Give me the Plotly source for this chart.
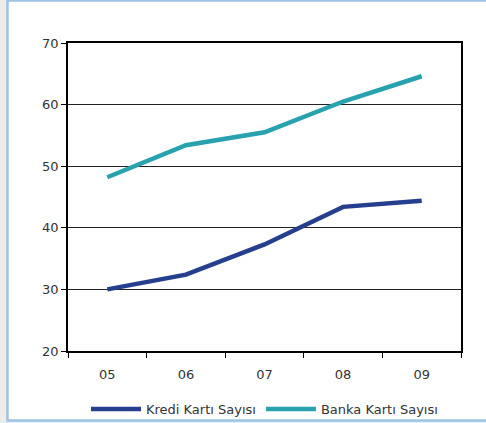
import plotly.graph_objects as go

years = ["05", "06", "07", "08", "09"]
kredi = [30.0, 32.4, 37.3, 43.4, 44.4]
banka = [48.2, 53.4, 55.5, 60.5, 64.6]
y_ticks = [20, 30, 40, 50, 60, 70]

FONT = "DejaVu Sans"

fig = go.Figure()
fig.add_trace(go.Scatter(
    x=years, y=kredi, name="Kredi Kartı Sayısı", mode="lines",
    line=dict(color="#253f8e", width=4.5),
))
fig.add_trace(go.Scatter(
    x=years, y=banka, name="Banka Kartı Sayısı", mode="lines",
    line=dict(color="#27a2ae", width=4.5),
))

# outer frame: white panel with light-blue border
fig.add_shape(
    type="rect", xref="paper", yref="paper", layer="below",
    x0=-0.154, x1=1.08, y0=-0.2256, y1=1.138,
    line=dict(color="#9dc3e6", width=2.5), fillcolor="white",
)

fig.update_layout(
    width=486, height=423,
    margin=dict(l=68, r=25, t=43, b=72, autoexpand=False),
    paper_bgcolor="#ececec",
    plot_bgcolor="white",
    font=dict(family=FONT, size=13, color="#333333"),
    showlegend=True,
    legend=dict(
        orientation="h", x=0.5, xanchor="center", y=-0.14, yanchor="top",
        font=dict(family=FONT, size=13, color="#333333"),
        itemwidth=50, tracegroupgap=0, bgcolor="rgba(0,0,0,0)",
    ),
    xaxis=dict(
        type="category", tickson="boundaries", ticks="outside", ticklen=5,
        tickcolor="#000", showline=True, linecolor="#000", linewidth=2,
        mirror=True, showgrid=False, range=[-0.5, 4.5],
        ticklabelstandoff=10,
        tickfont=dict(size=13, color="#333333"),
    ),
    yaxis=dict(
        range=[20, 70], tickvals=y_ticks, ticks="outside", ticklen=5,
        tickcolor="#000", showline=True, linecolor="#000", linewidth=1.5,
        mirror=True, showgrid=True, gridcolor="#222222", gridwidth=1,
        zeroline=False, tickfont=dict(size=13, color="#333333"),
    ),
)

fig.write_html("out.html")
